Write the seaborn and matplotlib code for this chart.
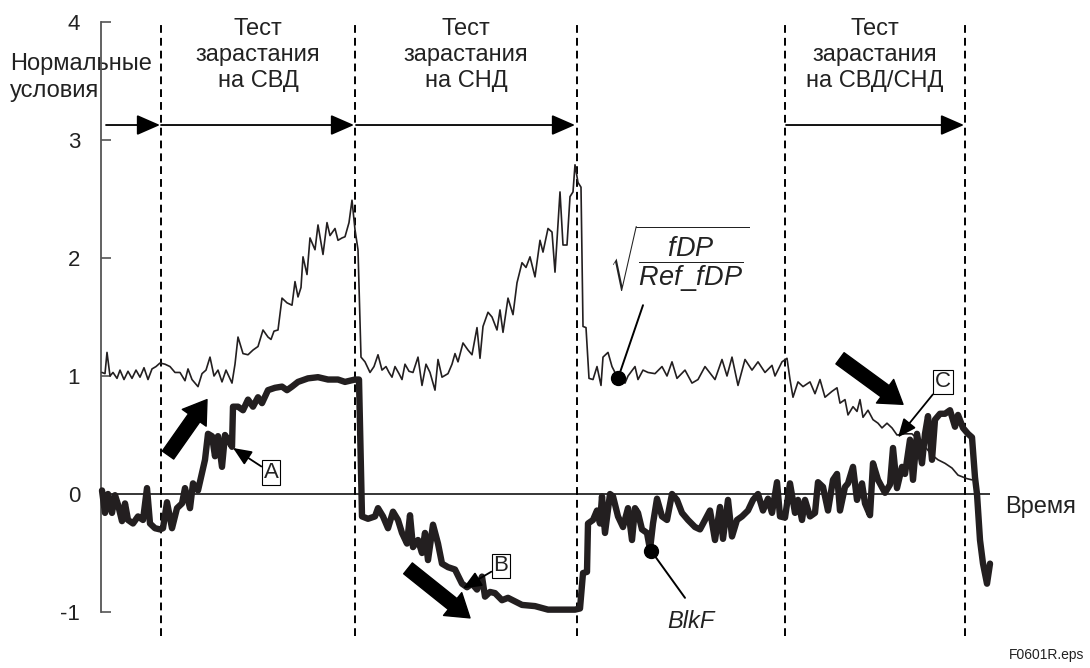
import matplotlib
matplotlib.use("Agg")
import matplotlib.pyplot as plt
import seaborn as sns
import pandas as pd

# ---- data (time in arbitrary units) ----
t_ratio = [102, 105, 107, 110, 113, 117, 120, 124, 128, 132, 136, 140, 144, 148, 152, 156,
           160, 165, 170, 175, 180, 185, 188, 192, 198, 202, 206, 210, 214, 218, 222, 226,
           232, 235, 238, 243, 248, 253, 258, 263, 268, 271, 274, 278, 282, 287, 292, 295,
           298, 301, 303, 307, 310, 315, 318, 323, 327, 330, 335, 338, 342, 345, 349, 352,
           355, 358, 361, 365, 370, 374, 378, 382, 386, 389, 392, 395, 399, 402, 405, 409,
           413, 418, 422, 426, 430, 435, 438, 442, 448, 452, 455, 458, 463, 468, 472, 477,
           480, 483, 488, 492, 497, 500, 503, 508, 513, 517, 522, 526, 530, 535, 540, 543,
           548, 552, 555, 560, 563, 567, 570, 573, 575, 578, 581, 583, 586, 589, 593, 597,
           601, 603, 608, 612, 618, 625, 628, 635, 638, 643, 648, 655, 662, 667, 672, 677,
           685, 692, 698, 705, 715, 722, 727, 732, 738, 745, 752, 758, 765, 772, 775, 782,
           787, 790, 793, 798, 803, 810, 815, 820, 825, 832, 837, 840, 845, 848, 853, 857,
           860, 863, 868, 873, 878, 882, 887, 892, 897, 905, 912, 918, 925, 932, 938, 945,
           952, 958, 967, 972]
ratio = [1.03, 1.02, 1.20, 1.00, 1.03, 0.98, 1.05, 0.97, 1.04, 0.98, 1.05, 0.99, 1.07, 0.97, 1.06, 1.08,
         1.11, 1.10, 1.08, 1.03, 1.03, 0.96, 1.06, 0.97, 0.91, 1.02, 1.05, 1.16, 1.00, 1.05, 0.95, 1.05,
         0.94, 1.10, 1.33, 1.19, 1.18, 1.22, 1.25, 1.39, 1.33, 1.31, 1.38, 1.39, 1.66, 1.62, 1.60, 1.80,
         1.67, 1.75, 2.01, 1.86, 2.17, 2.07, 2.28, 2.03, 2.30, 2.19, 2.25, 2.15, 2.17, 2.18, 2.30, 2.49,
         2.24, 2.07, 1.16, 1.12, 1.03, 1.08, 1.18, 1.05, 1.08, 1.03, 0.99, 1.08, 1.02, 0.97, 1.10, 1.04,
         1.03, 1.16, 0.92, 1.10, 1.03, 0.88, 1.14, 0.99, 1.02, 1.10, 1.19, 1.12, 1.28, 1.22, 1.18, 1.41,
         1.15, 1.42, 1.54, 1.50, 1.39, 1.56, 1.37, 1.66, 1.52, 1.79, 1.96, 1.92, 2.01, 1.84, 2.15, 2.05,
         2.25, 2.22, 1.88, 2.56, 2.11, 2.11, 2.52, 2.56, 2.79, 2.64, 2.60, 1.42, 1.41, 0.98, 0.97, 1.08,
         0.92, 1.16, 1.20, 1.08, 0.98, 0.94, 1.00, 1.08, 0.97, 1.05, 1.03, 1.02, 1.08, 1.00, 1.12, 0.98,
         1.05, 0.94, 0.97, 1.08, 0.97, 1.14, 1.00, 1.16, 0.92, 1.14, 1.05, 1.12, 1.03, 1.09, 1.00, 1.12,
         1.15, 0.97, 0.82, 0.95, 0.91, 0.95, 0.85, 0.97, 0.82, 0.87, 0.90, 0.77, 0.80, 0.67, 0.74, 0.70,
         0.80, 0.65, 0.71, 0.63, 0.60, 0.56, 0.60, 0.56, 0.50, 0.51, 0.51, 0.46, 0.40, 0.33, 0.29, 0.26,
         0.22, 0.16, 0.13, 0.12]

t_blkf = [102, 105, 108, 112, 115, 118, 122, 125, 128, 133, 138, 143, 147, 150, 155, 160,
          163, 167, 172, 177, 182, 185, 190, 193, 198, 202, 205, 208, 212, 215, 218, 222,
          225, 228, 232, 233, 238, 243, 248, 253, 258, 262, 268, 275, 282, 287, 292, 298,
          308, 318, 328, 338, 345, 355, 359, 362, 368, 375, 378, 383, 388, 393, 398, 402,
          407, 410, 413, 418, 422, 425, 428, 433, 438, 442, 448, 455, 462, 467, 472, 477,
          482, 485, 490, 495, 502, 508, 515, 522, 535, 548, 562, 575, 580, 583, 587, 588,
          593, 597, 600, 602, 605, 610, 613, 618, 623, 628, 632, 635, 638, 642, 647, 650,
          653, 657, 662, 667, 672, 677, 682, 688, 695, 700, 705, 710, 715, 720, 723, 728,
          732, 737, 742, 748, 753, 758, 763, 768, 772, 777, 780, 785, 790, 795, 798, 802,
          805, 810, 815, 818, 823, 828, 833, 837, 840, 845, 848, 853, 857, 862, 865, 870,
          873, 878, 885, 890, 893, 897, 902, 905, 910, 913, 917, 922, 925, 928, 932, 935,
          940, 945, 950, 955, 958, 963, 968, 972, 975, 977, 980, 983, 987, 990]
blkf = [0.03, -0.16, 0.00, -0.16, -0.01, -0.09, -0.23, -0.08, -0.22, -0.25, -0.19, -0.22, 0.05, -0.25, -0.29, -0.30,
        -0.29, -0.07, -0.29, -0.12, -0.08, 0.05, -0.12, 0.09, 0.03, 0.18, 0.29, 0.51, 0.49, 0.32, 0.49, 0.23,
        0.50, 0.46, 0.40, 0.74, 0.74, 0.71, 0.80, 0.74, 0.82, 0.77, 0.88, 0.90, 0.91, 0.88, 0.91, 0.95,
        0.98, 0.99, 0.97, 0.97, 0.95, 0.97, 0.97, -0.19, -0.21, -0.19, -0.12, -0.19, -0.29, -0.15, -0.22, -0.33,
        -0.42, -0.18, -0.45, -0.39, -0.50, -0.33, -0.56, -0.26, -0.42, -0.59, -0.62, -0.64, -0.76, -0.79, -0.76, -0.81,
        -0.70, -0.87, -0.83, -0.84, -0.90, -0.88, -0.91, -0.94, -0.95, -0.98, -0.98, -0.98, -0.97, -0.67, -0.66, -0.25,
        -0.22, -0.14, -0.25, -0.02, -0.33, 0.00, -0.02, -0.19, -0.28, -0.12, -0.39, -0.12, -0.16, -0.30, -0.33, -0.47,
        -0.25, -0.04, -0.19, -0.22, 0.00, -0.05, -0.16, -0.22, -0.28, -0.30, -0.22, -0.14, -0.39, -0.11, -0.38, -0.05,
        -0.36, -0.22, -0.19, -0.14, -0.05, 0.00, -0.14, -0.04, -0.16, 0.10, -0.19, -0.20, 0.09, -0.16, -0.05, -0.22,
        -0.05, -0.19, -0.16, 0.10, 0.06, -0.14, 0.12, 0.17, -0.14, 0.06, 0.09, 0.23, -0.05, 0.09, -0.08, -0.18,
        0.26, 0.12, 0.01, 0.08, 0.39, 0.05, 0.23, 0.17, 0.46, 0.12, 0.51, 0.26, 0.51, 0.66, 0.29, 0.63,
        0.68, 0.68, 0.71, 0.57, 0.67, 0.56, 0.51, 0.48, 0.14, 0.00, -0.39, -0.59, -0.76, -0.59]

phase_bounds = [161, 355, 577, 785, 965]
phase_titles = ["Тест\nзарастания\nна СВД", "Тест\nзарастания\nна СНД", "Тест\nзарастания\nна СВД/СНД"]
phase_title_x = [258, 466, 875]
y_ticks = [-1, 0, 1, 2, 3, 4]

# ---- style ----
sns.set_theme(style="white")
plt.rcParams["font.family"] = ["Liberation Sans", "DejaVu Sans"]
plt.rcParams["mathtext.fontset"] = "custom"
plt.rcParams["mathtext.rm"] = "Liberation Sans"
plt.rcParams["mathtext.it"] = "Liberation Sans:italic"
plt.rcParams["mathtext.bf"] = "Liberation Sans:bold"

fig = plt.figure(figsize=(10.9, 6.68), dpi=100)
ax = fig.add_axes([101 / 1090, 1 - 612 / 668, (990 - 101) / 1090, (612 - 22) / 668])

df_r = pd.DataFrame({"t": t_ratio, "v": ratio})
df_b = pd.DataFrame({"t": t_blkf, "v": blkf})
ink = "#231f20"
sns.lineplot(data=df_r, x="t", y="v", ax=ax, color=ink, lw=1.2, zorder=3, estimator=None, sort=False)
sns.lineplot(data=df_b, x="t", y="v", ax=ax, color=ink, lw=4.6, zorder=4, estimator=None, sort=False,
             solid_joinstyle="round", solid_capstyle="round")
for ln in ax.lines:
    ln.set_clip_on(False)

ax.set_xlim(101, 990)
ax.set_ylim(-1, 4)
ax.set_xlabel("")
ax.set_ylabel("")
ax.set_xticks([])
ax.set_yticks(y_ticks)
ax.set_yticklabels([str(v) for v in y_ticks])
for s in ["top", "right", "bottom"]:
    ax.spines[s].set_visible(False)
ax.spines["left"].set_color("#555555")
ax.spines["left"].set_linewidth(1.3)
ax.tick_params(axis="y", direction="in", length=7, width=1.2, color="#555555",
               labelsize=16, pad=15, left=True, labelcolor="#222222")

# zero line (time axis)
ax.axhline(0, color="black", lw=1.1, zorder=2)
fig.text(1005 / 1090, 1 - 507 / 668, "Время", fontsize=17, ha="left", va="center", color="#222222")

# phase boundaries
for xb in phase_bounds:
    ax.plot([xb, xb], [-1.2, 4.0], color="black", lw=1.4, ls=(0, (4, 2.6)), clip_on=False, zorder=1)

# phase titles
for xt, tt in zip(phase_title_x, phase_titles):
    ax.text(xt, 3.72, tt, ha="center", va="center", fontsize=17, linespacing=1.22,
            multialignment="center", color="#222222")
ax.text(10, 3.53, "Нормальные\nусловия", ha="left", va="center", fontsize=17,
        linespacing=1.25, color="#222222", zorder=0)

# phase arrows
ya = 3.127
for a, b in [(106, 160), (161, 354), (356, 575), (786, 964)]:
    ax.annotate("", xy=(b, ya), xytext=(a, ya), annotation_clip=False,
                arrowprops=dict(arrowstyle="-|>,head_length=0.8,head_width=0.35", lw=1.3,
                                color="black", mutation_scale=18, shrinkA=0, shrinkB=0))

# fat trend arrows
fat = dict(arrowstyle="simple,head_width=2.1,head_length=1.6,tail_width=1.0",
           color="black", mutation_scale=10, shrinkA=0, shrinkB=0)
ax.annotate("", xy=(207, 0.80), xytext=(168, 0.33), arrowprops=fat, annotation_clip=False)
ax.annotate("", xy=(470, -1.05), xytext=(408, -0.63), arrowprops=fat, annotation_clip=False)
ax.annotate("", xy=(903, 0.76), xytext=(840, 1.15), arrowprops=fat, annotation_clip=False)

# boxed letter pointers
box = dict(boxstyle="square,pad=0.08", fc="white", ec="black", lw=0.8)
ptr = dict(arrowstyle="-|>,head_length=0.7,head_width=0.3", lw=1.3, color="black",
           mutation_scale=16, shrinkA=0, shrinkB=0)
ax.annotate("A", xy=(233, 0.39), xytext=(271, 0.18), fontsize=16, ha="center", va="center",
            bbox=box, arrowprops=ptr, color="#222222", zorder=6)
ax.annotate("B", xy=(463, -0.80), xytext=(501, -0.61), fontsize=16, ha="center", va="center",
            bbox=box, arrowprops=ptr, color="#222222", zorder=6)
ax.annotate("C", xy=(898, 0.48), xytext=(943, 0.95), fontsize=16, ha="center", va="center",
            bbox=box, arrowprops=ptr, color="#222222", zorder=6)

# dot pointers
ax.plot([618, 643], [0.98, 1.60], color="black", lw=1.4, zorder=5)
ax.plot([618], [0.98], "o", color="black", ms=10, zorder=6)
ax.text(679, 1.99, r"$\sqrt{\dfrac{fDP}{Ref\_fDP}}$", fontsize=19.5, ha="center", va="center",
        color="#222222")
ax.plot([651, 685], [-0.48, -0.88], color="black", lw=1.4, zorder=5)
ax.plot([651], [-0.48], "o", color="black", ms=10, zorder=6)
ax.text(691, -1.08, "BlkF", fontsize=17, style="italic", ha="center", va="center", color="#222222")

fig.text(0.995, 1 - 655 / 668, "F0601R.eps", fontsize=10, ha="right", va="center", color="#222222")

fig.savefig("out.png", dpi=100)
